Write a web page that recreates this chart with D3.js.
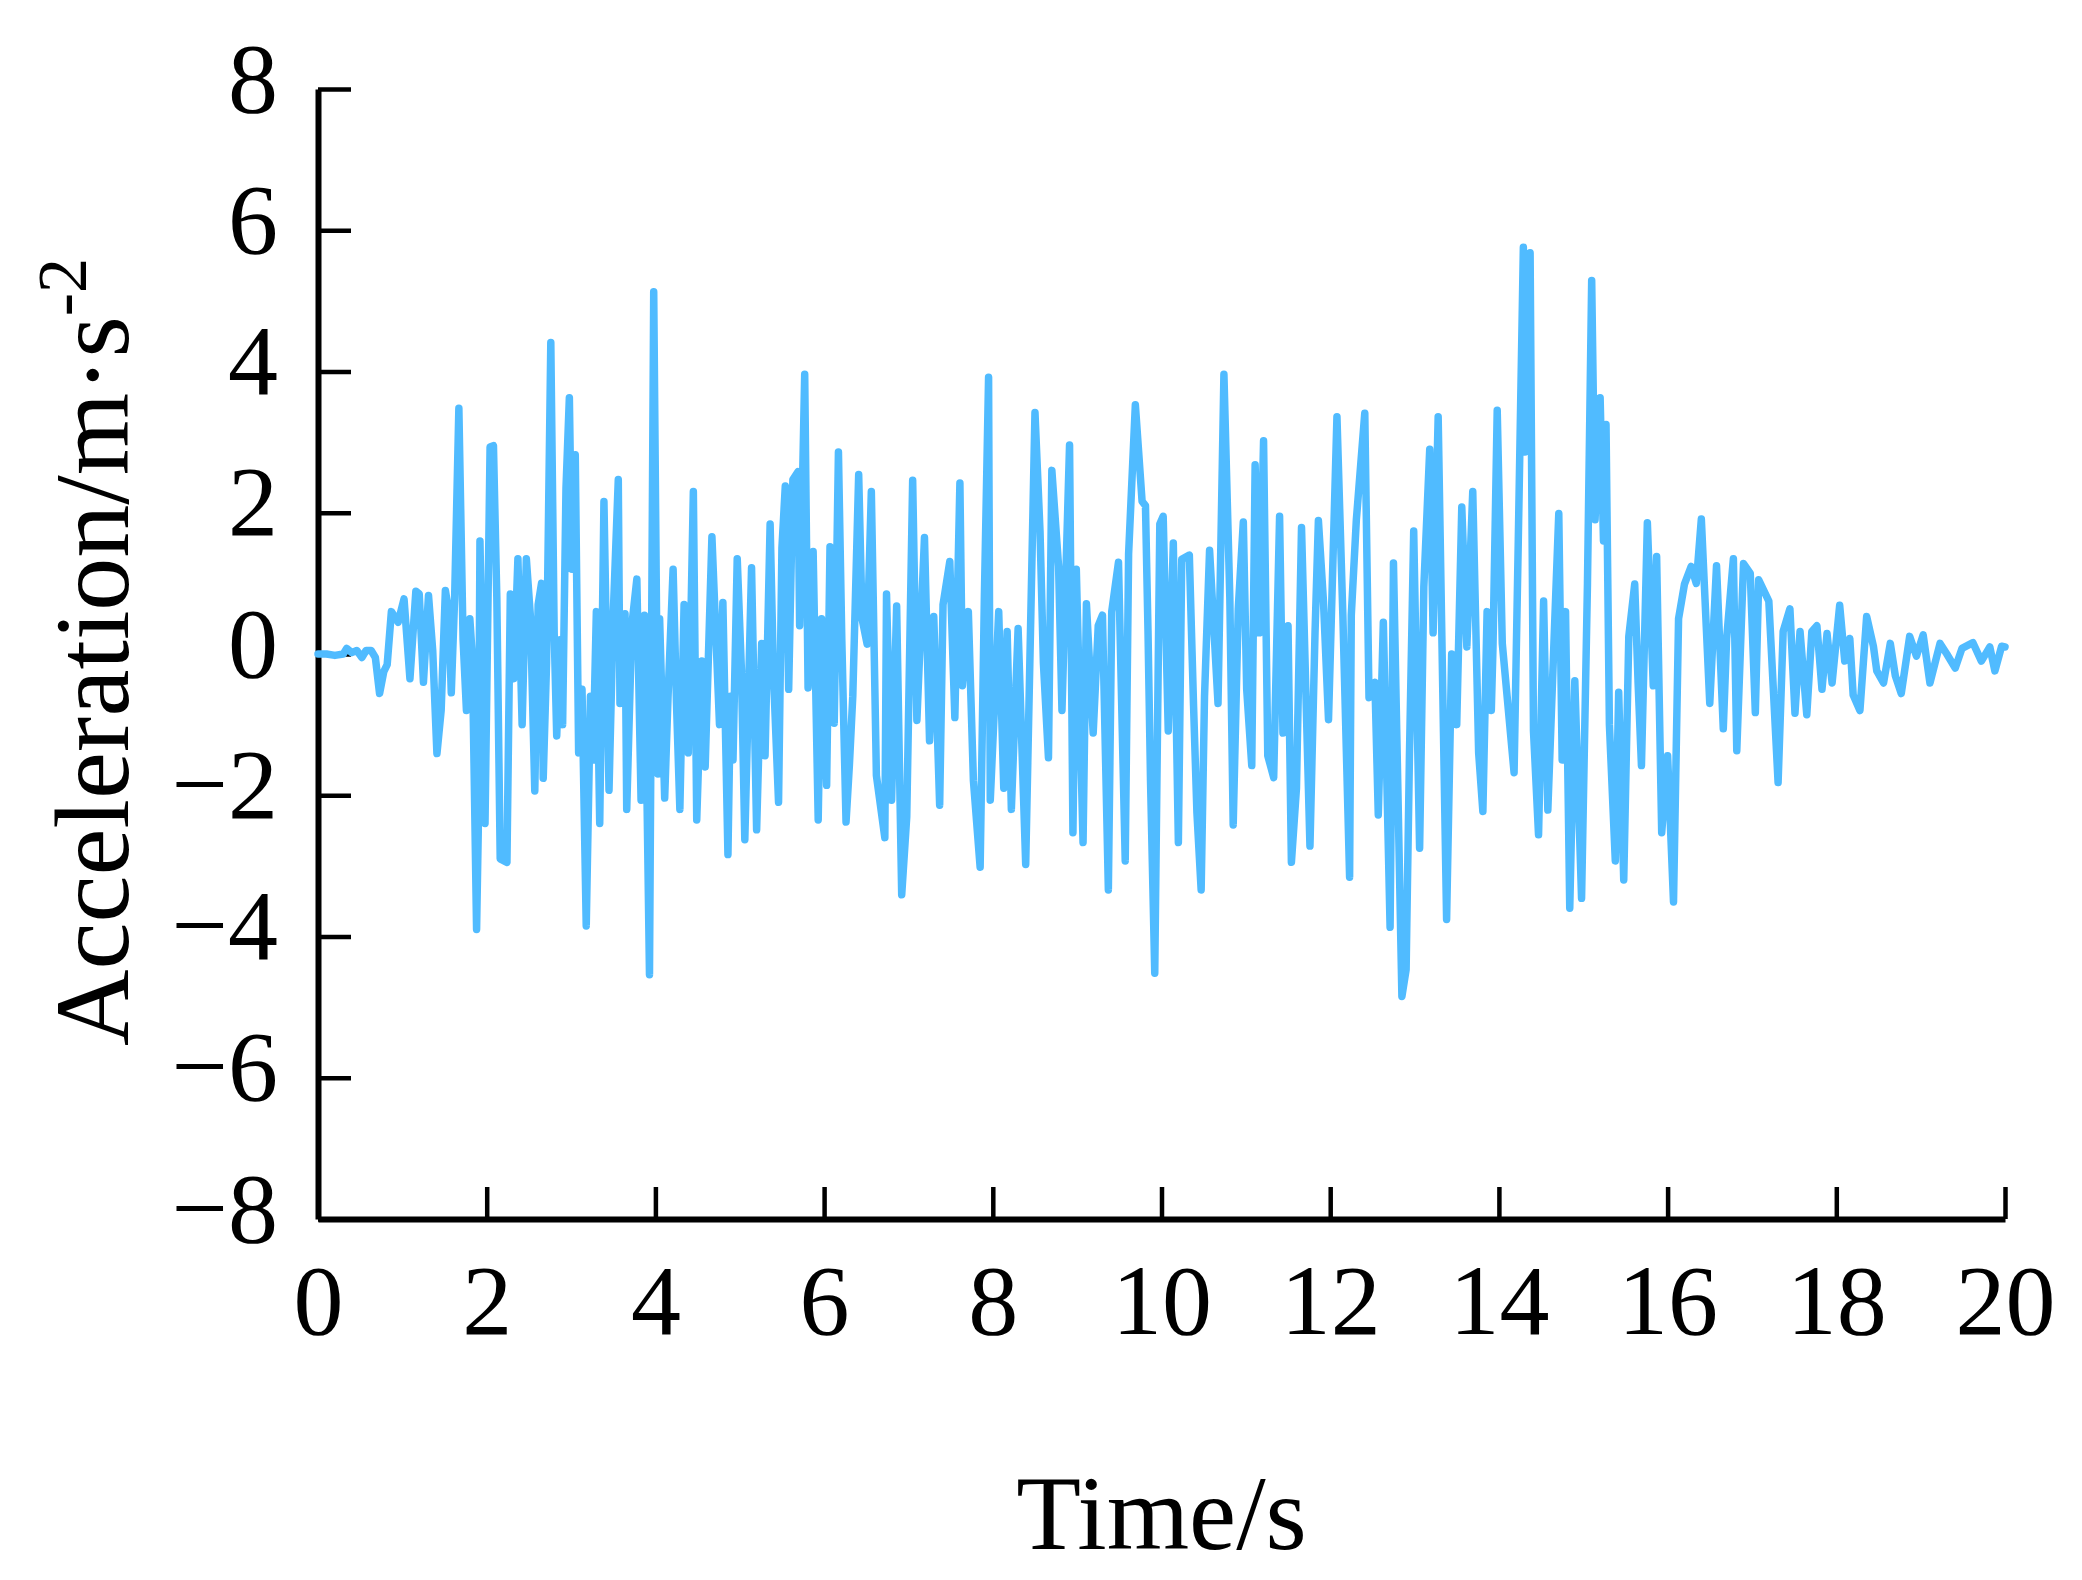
<!DOCTYPE html>
<html>
<head>
<meta charset="utf-8">
<script src="https://cdn.jsdelivr.net/npm/d3@7"></script>
<style>
  body { margin: 0; background: #fff; }
  svg { display: block; }
</style>
</head>
<body>
<div id="chart-area"></div>
<script>
// axis ticks
const xTicks = [0, 2, 4, 6, 8, 10, 12, 14, 16, 18, 20];
const yTicks = [-8, -6, -4, -2, 0, 2, 4, 6, 8];

// acceleration record (turning points)
const timeS = [
  0.00, 0.10, 0.20, 0.30, 0.34, 0.40, 0.46, 0.52, 0.57, 0.63, 0.68, 0.73, 0.78, 0.82, 0.87, 0.95,
  1.02, 1.09, 1.16, 1.20, 1.25, 1.31, 1.36, 1.41, 1.46, 1.51, 1.55, 1.58, 1.62, 1.67, 1.72, 1.76,
  1.80, 1.83, 1.88, 1.90, 1.92, 1.98, 2.04, 2.08, 2.12, 2.16, 2.24, 2.28, 2.32, 2.37, 2.42, 2.47,
  2.52, 2.57, 2.61, 2.65, 2.67, 2.71, 2.76, 2.80, 2.83, 2.87, 2.90, 2.94, 2.98, 3.01, 3.05, 3.09,
  3.13, 3.18, 3.23, 3.26, 3.30, 3.34, 3.39, 3.45, 3.50, 3.56, 3.58, 3.64, 3.66, 3.72, 3.78, 3.83,
  3.87, 3.93, 3.98, 4.03, 4.05, 4.11, 4.15, 4.21, 4.25, 4.29, 4.34, 4.39, 4.45, 4.49, 4.55, 4.59,
  4.67, 4.76, 4.80, 4.86, 4.89, 4.92, 4.97, 5.02, 5.06, 5.14, 5.20, 5.26, 5.30, 5.36, 5.40, 5.46,
  5.50, 5.54, 5.58, 5.63, 5.69, 5.71, 5.77, 5.81, 5.87, 5.93, 5.97, 6.03, 6.07, 6.12, 6.17, 6.21,
  6.26, 6.30, 6.34, 6.41, 6.45, 6.51, 6.56, 6.62, 6.72, 6.74, 6.80, 6.86, 6.92, 6.98, 7.05, 7.10,
  7.19, 7.25, 7.30, 7.37, 7.41, 7.49, 7.55, 7.61, 7.64, 7.71, 7.77, 7.85, 7.90, 7.95, 7.97, 8.07,
  8.13, 8.17, 8.22, 8.30, 8.39, 8.50, 8.56, 8.60, 8.66, 8.70, 8.78, 8.82, 8.91, 8.95, 8.99, 9.07,
  9.11, 9.19, 9.25, 9.30, 9.37, 9.41, 9.49, 9.57, 9.61, 9.69, 9.77, 9.81, 9.84, 9.87, 9.92, 9.98,
  10.02, 10.08, 10.14, 10.20, 10.24, 10.33, 10.38, 10.42, 10.47, 10.51, 10.57, 10.67, 10.74, 10.81, 10.85, 10.91,
  10.97, 11.01, 11.07, 11.11, 11.16, 11.21, 11.26, 11.33, 11.40, 11.44, 11.50, 11.54, 11.60, 11.66, 11.76, 11.82,
  11.86, 11.92, 11.98, 12.08, 12.15, 12.23, 12.25, 12.31, 12.41, 12.46, 12.53, 12.57, 12.63, 12.71, 12.75, 12.85,
  12.90, 12.94, 12.99, 13.06, 13.11, 13.18, 13.22, 13.28, 13.38, 13.44, 13.50, 13.56, 13.62, 13.69, 13.76, 13.81,
  13.86, 13.91, 13.93, 13.98, 14.04, 14.18, 14.23, 14.29, 14.31, 14.37, 14.41, 14.47, 14.53, 14.58, 14.66, 14.71,
  14.75, 14.79, 14.84, 14.90, 14.98, 15.05, 15.10, 15.14, 15.20, 15.24, 15.27, 15.31, 15.38, 15.42, 15.48, 15.54,
  15.61, 15.65, 15.69, 15.76, 15.83, 15.87, 15.93, 16.00, 16.07, 16.13, 16.20, 16.28, 16.34, 16.40, 16.50, 16.58,
  16.66, 16.70, 16.78, 16.82, 16.90, 16.98, 17.04, 17.08, 17.20, 17.31, 17.37, 17.45, 17.51, 17.57, 17.65, 17.71,
  17.77, 17.83, 17.89, 17.95, 18.04, 18.10, 18.16, 18.20, 18.28, 18.36, 18.44, 18.48, 18.56, 18.64, 18.70, 18.77,
  18.87, 18.95, 19.03, 19.11, 19.23, 19.31, 19.41, 19.49, 19.62, 19.72, 19.82, 19.88, 19.96, 20.00
];
const accel = [
  0.00, 0.00, -0.02, 0.00, 0.08, 0.02, 0.05, -0.05, 0.05, 0.05, -0.05, -0.56, -0.25, -0.15, 0.60, 0.45,
  0.78, -0.35, 0.89, 0.85, -0.40, 0.83, 0.05, -1.41, -0.80, 0.90, 0.60, -0.55, 0.80, 3.48, 0.20, -0.80,
  0.50, -0.05, -3.90, -2.50, 1.60, -2.40, 2.93, 2.95, 0.80, -2.90, -2.95, 0.85, -0.35, 1.35, -1.00, 1.35,
  0.50, -1.94, 0.70, 1.00, -1.76, -0.12, 4.41, 0.30, -1.16, 0.20, -1.00, 2.35, 3.63, 1.20, 2.82, -1.40,
  -0.50, -3.85, -0.60, -1.50, 0.60, -2.40, 2.16, -1.93, 0.55, 2.47, -0.70, 0.57, -2.20, 0.40, 1.06, -2.07,
  0.55, -4.54, 5.13, -1.70, 0.50, -2.04, -0.60, 1.20, -0.70, -2.20, 0.70, -1.40, 2.30, -2.35, -0.10, -1.60,
  1.66, -1.00, 0.73, -2.84, -0.60, -1.50, 1.35, -0.24, -2.63, 1.22, -2.49, 0.15, -1.44, 1.84, -0.30, -2.10,
  1.50, 2.38, -0.50, 2.47, 2.58, 0.40, 3.96, -0.48, 1.45, -2.35, 0.50, -1.86, 1.52, -0.98, 2.86, 0.20,
  -2.38, -1.57, -0.60, 2.54, 0.50, 0.14, 2.30, -1.72, -2.60, 0.85, -2.07, 0.68, -3.41, -2.30, 2.46, -0.94,
  1.65, -1.23, 0.53, -2.14, 0.70, 1.31, -0.90, 2.42, -0.45, 0.60, -1.79, -3.02, 0.80, 3.92, -2.07, 0.60,
  -1.90, 0.32, -2.20, 0.36, -2.98, 3.42, 1.73, -0.13, -1.47, 2.60, 1.24, -0.80, 2.96, -2.53, 1.20, -2.67,
  0.71, -1.12, 0.40, 0.55, -3.34, 0.60, 1.30, -2.93, 1.42, 3.53, 2.16, 2.10, 0.32, -1.80, -4.52, 1.84,
  1.95, -1.09, 1.57, -2.67, 1.34, 1.40, -0.73, -2.25, -3.34, -0.60, 1.47, -0.70, 3.96, 0.80, -2.42, 0.64,
  1.87, -0.50, -1.58, 2.68, 0.30, 3.02, -1.44, -1.75, 1.95, -1.12, 0.40, -2.95, -1.90, 1.79, -2.72, 0.30,
  1.89, 0.75, -0.93, 3.36, 0.55, -3.16, 0.55, 1.90, 3.41, -0.62, -0.40, -2.28, 0.45, -3.87, 1.29, -4.85,
  -4.47, -1.40, 1.74, -2.75, 0.95, 2.90, 0.30, 3.36, -3.76, 0.00, -1.00, 2.08, 0.10, 2.30, -1.40, -2.23,
  0.60, -0.80, 0.10, 3.45, 0.15, -1.68, 1.62, 5.76, 2.86, 5.68, -1.09, -2.56, 0.75, -2.21, 0.40, 1.99,
  -1.50, 0.60, -3.60, -0.38, -3.46, 1.00, 5.29, 1.90, 3.63, 1.60, 3.25, -1.00, -2.93, -0.54, -3.20, 0.25,
  0.99, -0.40, -1.58, 1.86, -0.45, 1.38, -2.53, -1.44, -3.51, 0.50, 0.99, 1.24, 1.00, 1.91, -0.70, 1.25,
  -1.06, 0.22, 1.35, -1.37, 1.28, 1.14, -0.83, 1.05, 0.75, -1.82, 0.32, 0.64, -0.84, 0.32, -0.86, 0.32,
  0.40, -0.50, 0.29, -0.41, 0.69, -0.10, 0.22, -0.58, -0.80, 0.53, 0.11, -0.24, -0.41, 0.15, -0.31, -0.56,
  0.25, -0.03, 0.27, -0.41, 0.15, 0.00, -0.20, 0.08, 0.16, -0.10, 0.10, -0.24, 0.11, 0.10
];

const data = timeS.map((t, i) => ({ t: t, a: accel[i] }));

const WIDTH = 2082, HEIGHT = 1580;
const margin = { LEFT: 318, RIGHT: 77, TOP: 89, BOTTOM: 361 };
const width = WIDTH - margin.LEFT - margin.RIGHT;
const height = HEIGHT - margin.TOP - margin.BOTTOM;
const FONT = "'Liberation Serif', 'Times New Roman', serif";

const svg = d3.select("#chart-area").append("svg")
  .attr("width", WIDTH)
  .attr("height", HEIGHT);

const g = svg.append("g")
  .attr("transform", `translate(${margin.LEFT}, ${margin.TOP})`);

// scales
const x = d3.scaleLinear().domain([0, 20]).range([0, width]);
const y = d3.scaleLinear().domain([-8, 8]).range([height, 0]);

const fmt = d => d < 0 ? "\u2212" + Math.abs(d) : String(d);

// axes, ticks pointing inward
const xAxis = g.append("g")
  .attr("transform", `translate(0, ${height})`)
  .call(d3.axisBottom(x).tickValues(xTicks).tickFormat(fmt)
    .tickSizeInner(-32).tickSizeOuter(0).tickPadding(44));
const yAxis = g.append("g")
  .call(d3.axisLeft(y).tickValues(yTicks).tickFormat(fmt)
    .tickSizeInner(-33).tickSizeOuter(0).tickPadding(40));

[xAxis, yAxis].forEach(ax => {
  ax.select(".domain").attr("stroke", "#000").attr("stroke-width", 6);
  ax.selectAll(".tick line").attr("stroke", "#000").attr("stroke-width", 4.5);
  ax.selectAll(".tick text")
    .attr("fill", "#000")
    .style("font-family", FONT)
    .style("font-size", "100px");
});
yAxis.selectAll(".tick text").attr("dy", "0.22em");

// the record
const line = d3.line()
  .x(d => x(d.t))
  .y(d => y(d.a));

g.append("path")
  .datum(data)
  .attr("fill", "none")
  .attr("stroke", "#50bbff")
  .attr("stroke-width", 7.5)
  .attr("stroke-linejoin", "round")
  .attr("stroke-linecap", "round")
  .attr("d", line);

// axis labels
svg.append("text")
  .attr("x", margin.LEFT + width / 2)
  .attr("y", 1549)
  .attr("text-anchor", "middle")
  .style("font-family", FONT)
  .style("font-size", "106px")
  .text("Time/s");

const yLabel = svg.append("text")
  .attr("transform", "translate(128, 652) rotate(-90)")
  .attr("text-anchor", "middle")
  .style("font-family", FONT)
  .style("font-size", "106px");
yLabel.append("tspan").text("Acceleration/m\u00b7s");
yLabel.append("tspan")
  .attr("dy", -42)
  .style("font-size", "70px")
  .text("-2");
</script>
</body>
</html>
